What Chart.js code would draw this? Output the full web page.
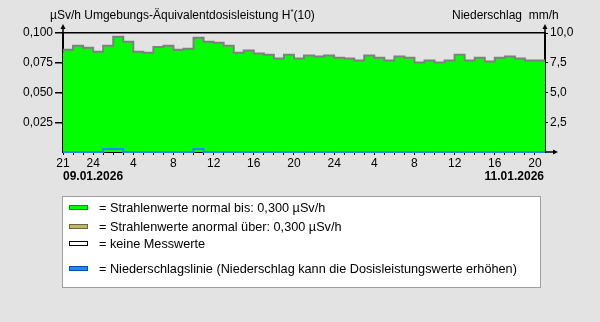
<!DOCTYPE html>
<html>
<head>
<meta charset="utf-8">
<script src="https://cdn.jsdelivr.net/npm/chart.js@4"></script>
<style>
  body { margin: 0; background: #e3e3e3; font-family: "Liberation Sans", Arial, sans-serif; color: #000; }
  #wrap { position: relative; width: 600px; height: 322px; }
  .t { position: absolute; font-size: 12px; line-height: 14px; white-space: nowrap; }
  .t sup { font-size: 8px; vertical-align: 5px; line-height: 0; }
  .date { font-weight: bold; }
  #legend { position: absolute; left: 62px; top: 196px; width: 479px; height: 92px; box-sizing: border-box;
            background: #fff; border: 1px solid #a0a0a0; }
  .row { position: absolute; left: 6px; font-size: 12.7px; line-height: 14px; white-space: nowrap; }
  .sw { display: inline-block; width: 17px; height: 3px; border: 1px solid #000; vertical-align: middle;
        margin-right: 11px; position: relative; top: -1px; }
</style>
</head>
<body>
<div id="wrap">
  <canvas id="daily-chart" width="600" height="322"></canvas>
  <div class="t" style="left:50px; top:8px">µSv/h&nbsp;Umgebungs-Äquivalentdosisleistung H<sup>*</sup>(10)</div>
  <div class="t" style="left:452px; top:8px">Niederschlag&nbsp; mm/h</div>
  <div class="t date" style="left:63px; top:169px">09.01.2026</div>
  <div class="t date" style="right:56px; top:169px">11.01.2026</div>
  <div id="legend">
    <div class="row" style="top:4px"><span class="sw" style="background:#00ff00;border-color:#009900"></span>= Strahlenwerte normal bis: 0,300 µSv/h</div>
    <div class="row" style="top:23px"><span class="sw" style="background:#bdb76b;border-color:#6b6640"></span>= Strahlenwerte anormal über: 0,300 µSv/h</div>
    <div class="row" style="top:40px"><span class="sw" style="background:#ffffff;border-color:#000"></span>= keine Messwerte</div>
    <div class="row" style="top:65px"><span class="sw" style="background:#1e88ff;border-color:#0050b0"></span>= Niederschlagslinie (Niederschlag kann die Dosisleistungswerte erhöhen)</div>
  </div>
</div>
<script>
// hourly dose rate, µSv/h, from 21:00 on 09.01.2026
const dose = [
  0.0835, 0.0860, 0.0893, 0.0877, 0.0843, 0.0893, 0.0968, 0.0927, 0.0843, 0.0835, 0.0883, 0.0893,
  0.0860, 0.0868, 0.0960, 0.0927, 0.0918, 0.0893, 0.0835, 0.0852, 0.0827, 0.0818, 0.0785, 0.0818,
  0.0785, 0.0810, 0.0802, 0.0810, 0.0793, 0.0785, 0.0768, 0.0810, 0.0793, 0.0768, 0.0802, 0.0793,
  0.0752, 0.0768, 0.0752, 0.0768, 0.0818, 0.0768, 0.0793, 0.0760, 0.0793, 0.0802, 0.0785, 0.0768
];
// hourly precipitation, mm/h
const rain = [
  0, 0, 0, 0, 0, 0.25, 0.25, 0, 0, 0, 0, 0,
  0, 0, 0.25, 0, 0, 0, 0, 0, 0, 0, 0, 0,
  0, 0, 0, 0, 0, 0, 0, 0, 0, 0, 0, 0,
  0, 0, 0, 0, 0, 0, 0, 0, 0, 0, 0, 0
];
// hour ticks that carry a label
const tickPos = [0, 3, 7, 11, 15, 19, 23, 27, 31, 35, 39, 43, 47];
const tickText = ['21', '24', '4', '8', '12', '16', '20', '24', '4', '8', '12', '16', '20'];

const doseLeft = [0.025, 0.05, 0.075, 0.1];
const doseText = ['0,025', '0,050', '0,075', '0,100'];
const rainRight = [2.5, 5, 7.5, 10];
const rainText = ['2,5', '5,0', '7,5', '10,0'];

// step points: one per hour start, plus the end of the last hour
function steps(arr) {
  const pts = arr.map((v, i) => ({x: i, y: v}));
  pts.push({x: arr.length, y: arr[arr.length - 1]});
  return pts;
}

const font = {family: '"Liberation Sans", Arial, sans-serif', size: 12};

const arrows = {
  id: 'arrows',
  afterDraw(chart) {
    const ctx = chart.ctx;
    const a = chart.chartArea;
    ctx.save();
    ctx.strokeStyle = '#000';
    ctx.fillStyle = '#000';
    ctx.lineWidth = 1.5;
    [a.left, a.right].forEach(x => {
      ctx.beginPath();
      ctx.moveTo(x, a.top);
      ctx.lineTo(x, a.top - 7);
      ctx.stroke();
      ctx.beginPath();
      ctx.moveTo(x, a.top - 9);
      ctx.lineTo(x - 2.5, a.top - 4);
      ctx.lineTo(x + 2.5, a.top - 4);
      ctx.closePath();
      ctx.fill();
    });
    ctx.beginPath();
    ctx.moveTo(a.right, a.bottom);
    ctx.lineTo(a.right + 11, a.bottom);
    ctx.stroke();
    ctx.beginPath();
    ctx.moveTo(a.right + 13, a.bottom);
    ctx.lineTo(a.right + 8, a.bottom - 2.5);
    ctx.lineTo(a.right + 8, a.bottom + 2.5);
    ctx.closePath();
    ctx.fill();
    ctx.restore();
  }
};

const config = {
  type: 'line',
  data: {
    datasets: [
      {
        label: 'Niederschlag',
        data: steps(rain),
        yAxisID: 'y2',
        stepped: 'after',
        fill: false,
        borderColor: '#1e88ff',
        borderWidth: 2,
        pointRadius: 0,
        clip: 4,
        order: 0
      },
      {
        label: 'Dosisleistung',
        data: steps(dose),
        yAxisID: 'y',
        stepped: 'after',
        fill: 'origin',
        backgroundColor: '#00ff00',
        borderColor: '#808080',
        borderWidth: 2,
        pointRadius: 0,
        order: 1
      }
    ]
  },
  options: {
    responsive: false,
    animation: false,
    layout: {padding: {top: 33, bottom: 150, left: 0, right: 0}},
    plugins: {legend: {display: false}, tooltip: {enabled: false}, title: {display: false}},
    scales: {
      x: {
        type: 'linear',
        min: 0,
        max: 48,
        afterBuildTicks: s => { s.ticks = dose.map((v, i) => ({value: i})); },
        afterFit: s => { s.height = 20; },
        grid: {drawOnChartArea: false, tickLength: 3, color: '#000'},
        border: {color: '#000', width: 2},
        ticks: {
          autoSkip: false,
          maxRotation: 0,
          padding: 1,
          color: '#000',
          font: font,
          callback: v => {
            const k = tickPos.indexOf(v);
            return k < 0 ? '' : tickText[k];
          }
        }
      },
      y: {
        position: 'left',
        min: 0,
        max: 0.1,
        afterBuildTicks: s => { s.ticks = doseLeft.map(v => ({value: v})); },
        afterFit: s => { s.width = 63; },
        grid: {
          drawOnChartArea: true,
          tickLength: 8,
          tickColor: '#000',
          lineWidth: 1.5,
          color: c => (c.tick && Math.abs(c.tick.value - 0.1) < 1e-9) ? '#000' : 'rgba(0,0,0,0)'
        },
        border: {color: '#000', width: 2},
        ticks: {
          padding: 2,
          color: '#000',
          font: font,
          callback: v => doseText[doseLeft.findIndex(d => Math.abs(d - v) < 1e-9)]
        }
      },
      y2: {
        position: 'right',
        min: 0,
        max: 10,
        afterBuildTicks: s => { s.ticks = rainRight.map(v => ({value: v})); },
        afterFit: s => { s.width = 55; },
        grid: {drawOnChartArea: false, tickLength: 3, color: '#000'},
        border: {color: '#000', width: 2},
        ticks: {
          padding: 2,
          color: '#000',
          font: font,
          callback: v => rainText[rainRight.indexOf(v)]
        }
      }
    }
  },
  plugins: [arrows]
};

const daily_chart = document.getElementById('daily-chart');
let stepChart = new Chart(daily_chart, config);
</script>
</body>
</html>
